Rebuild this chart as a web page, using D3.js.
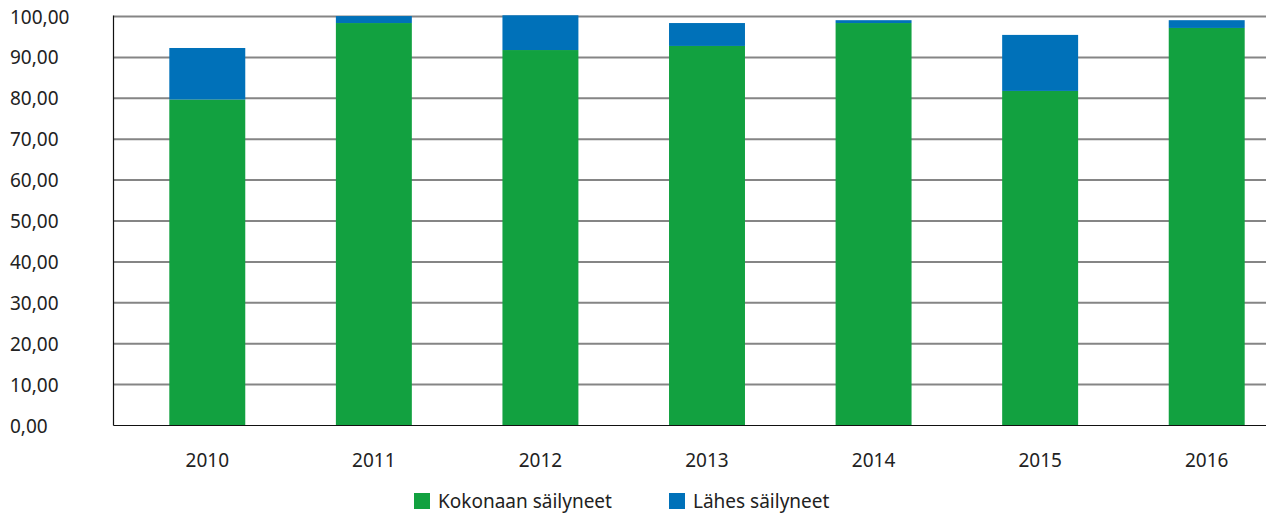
<!DOCTYPE html>
<meta charset="utf-8">
<style>
  body { margin: 0; background: #fff; }
  svg text { font-family: "Noto Sans", "Open Sans", sans-serif; fill: #222; }
</style>
<svg id="chart" width="1266" height="514"></svg>
<script src="https://d3js.org/d3.v7.min.js"></script>
<script>
// data
var years = ["2010", "2011", "2012", "2013", "2014", "2015", "2016"];
var kokonaan = [79.7, 98.4, 91.8, 92.8, 98.4, 81.8, 97.2];
var lahes = [12.6, 1.7, 8.5, 5.6, 0.7, 13.7, 1.9];
var yTicks = [0, 10, 20, 30, 40, 50, 60, 70, 80, 90, 100];
var seriesNames = ["Kokonaan säilyneet", "Lähes säilyneet"];
var colors = ["#12a140", "#0071b9"];

var svg = d3.select("#chart");
var plotLeft = 113.5, plotBottom = 425.5, plotTop = 16.5, plotRight = 1266;

var x = d3.scaleBand()
  .domain(years)
  .range([124, 1290])
  .paddingInner(0.544)
  .paddingOuter(0.272);

var y = d3.scaleLinear()
  .domain([0, 100])
  .range([plotBottom, plotTop]);

// gridlines
svg.append("g")
  .selectAll("line")
  .data(yTicks.filter(function(d) { return d > 0; }))
  .enter()
  .append("line")
    .attr("x1", plotLeft)
    .attr("x2", plotRight)
    .attr("y1", function(d) { return y(d); })
    .attr("y2", function(d) { return y(d); })
    .style("stroke", "#858585")
    .style("stroke-width", 2);

// stacked bars
var rows = years.map(function(yr, i) { return { year: yr, k: kokonaan[i], l: lahes[i] }; });
var stack = d3.stack().keys(["k", "l"])(rows);

svg.append("g")
  .selectAll("g")
  .data(stack)
  .enter()
  .append("g")
    .attr("fill", function(d, i) { return colors[i]; })
  .selectAll("rect")
  .data(function(d) { return d; })
  .enter()
  .append("rect")
    .attr("x", function(d) { return x(d.data.year); })
    .attr("width", x.bandwidth())
    .attr("y", function(d) { return y(d[1]); })
    .attr("height", function(d) { return y(d[0]) - y(d[1]); });

// axes lines
svg.append("line")
  .attr("x1", plotLeft).attr("x2", plotRight)
  .attr("y1", plotBottom).attr("y2", plotBottom)
  .style("stroke", "#111").style("stroke-width", 1.2);
svg.append("line")
  .attr("x1", plotLeft).attr("x2", plotLeft)
  .attr("y1", plotTop - 1).attr("y2", plotBottom)
  .style("stroke", "#111").style("stroke-width", 1.2);

// y labels (left aligned)
var fmt = function(d) { return d3.format(".2f")(d).replace(".", ","); };
svg.append("g")
  .selectAll("text")
  .data(yTicks)
  .enter()
  .append("text")
    .attr("x", 10)
    .attr("y", function(d) { return y(d) + 7; })
    .style("font-size", "19px")
    .text(fmt);

// x labels
svg.append("g")
  .selectAll("text")
  .data(years)
  .enter()
  .append("text")
    .attr("x", function(d) { return x(d) + x.bandwidth() / 2; })
    .attr("y", 467)
    .attr("text-anchor", "middle")
    .style("font-size", "19px")
    .text(function(d) { return d; });

// legend
var legendX = [414, 669];
var lg = svg.append("g")
  .selectAll("g")
  .data(seriesNames)
  .enter()
  .append("g")
    .attr("transform", function(d, i) { return "translate(" + legendX[i] + ",493)"; });
lg.append("rect")
  .attr("width", 16).attr("height", 16)
  .attr("fill", function(d, i) { return colors[i]; });
lg.append("text")
  .attr("x", 24).attr("y", 15)
  .style("font-size", "19px")
  .text(function(d) { return d; });
</script>
